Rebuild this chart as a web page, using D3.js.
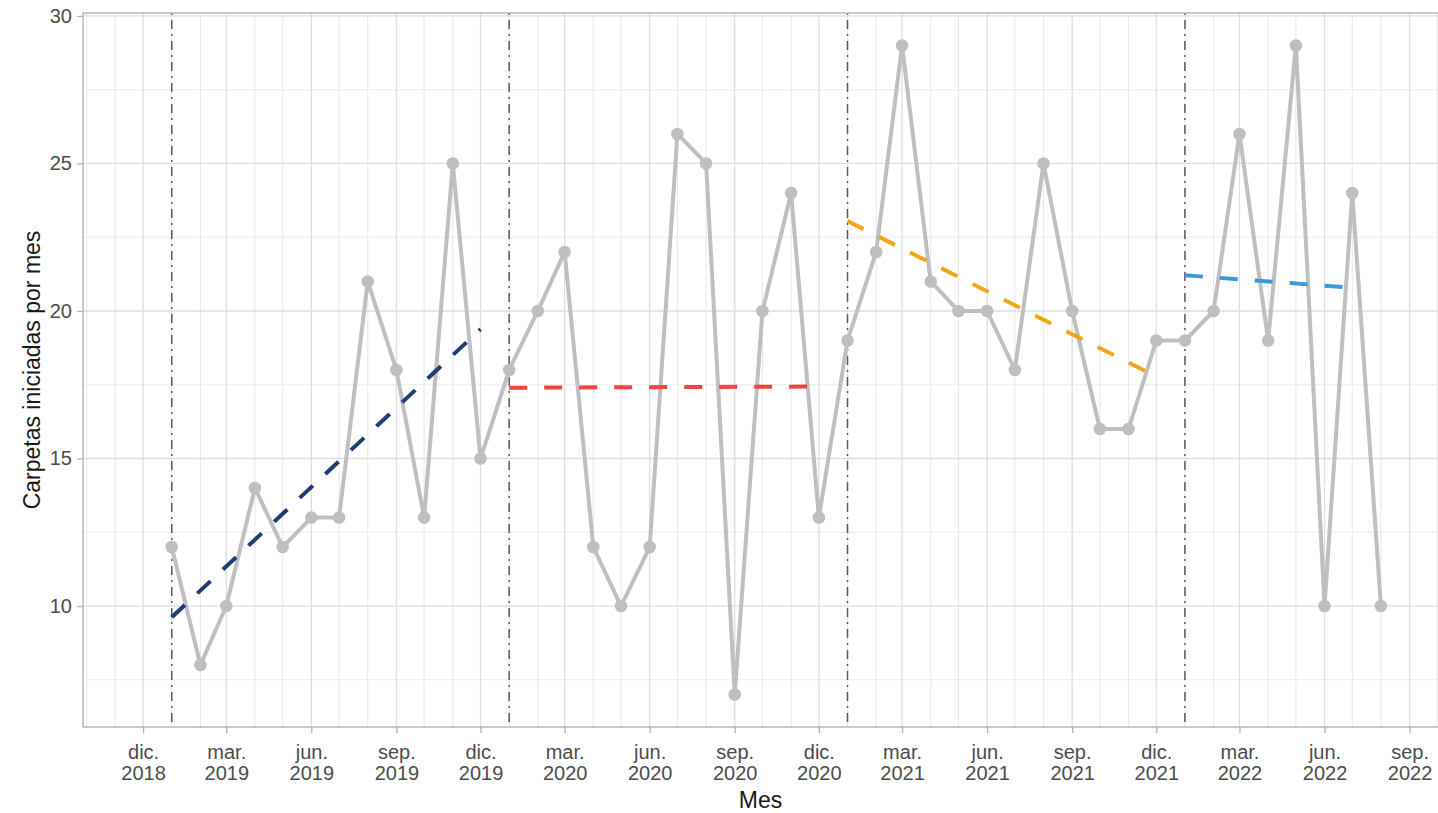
<!DOCTYPE html>
<html>
<head>
<meta charset="utf-8">
<script src="https://cdn.jsdelivr.net/npm/d3@7"></script>
<style>
  html, body { margin: 0; padding: 0; background: #fff; }
  svg { display: block; font-family: "Liberation Sans", Arial, sans-serif; }
</style>
</head>
<body>
<svg id="chart" width="1438" height="813"></svg>
<script>
// ---- data ----
const months = [
  "2019-01","2019-02","2019-03","2019-04","2019-05","2019-06","2019-07","2019-08","2019-09","2019-10","2019-11","2019-12",
  "2020-01","2020-02","2020-03","2020-04","2020-05","2020-06","2020-07","2020-08","2020-09","2020-10","2020-11","2020-12",
  "2021-01","2021-02","2021-03","2021-04","2021-05","2021-06","2021-07","2021-08","2021-09","2021-10","2021-11","2021-12",
  "2022-01","2022-02","2022-03","2022-04","2022-05","2022-06","2022-07","2022-08"
];
const carpetas = [
  12, 8, 10, 14, 12, 13, 13, 21, 18, 13, 25, 15,
  18, 20, 22, 12, 10, 12, 26, 25, 7, 20, 24, 13,
  19, 22, 29, 21, 20, 20, 18, 25, 20, 16, 16, 19,
  19, 20, 26, 19, 29, 10, 24, 10
];
const trendStart = ["2019-01", "2020-01", "2021-01", "2022-01"];
const trendEnd   = ["2019-12", "2020-12", "2021-12", "2022-07"];
const trendFrom  = [9.62, 17.40, 23.05, 21.21];
const trendTo    = [19.38, 17.44, 17.78, 20.79];
const cutMonths  = ["2019-01", "2020-01", "2021-01", "2022-01"];
const xTickMonths = ["2018-12","2019-03","2019-06","2019-09","2019-12","2020-03","2020-06","2020-09","2020-12",
                     "2021-03","2021-06","2021-09","2021-12","2022-03","2022-06","2022-09"];
const xTickLabels = [["dic.","2018"],["mar.","2019"],["jun.","2019"],["sep.","2019"],["dic.","2019"],
                     ["mar.","2020"],["jun.","2020"],["sep.","2020"],["dic.","2020"],
                     ["mar.","2021"],["jun.","2021"],["sep.","2021"],["dic.","2021"],
                     ["mar.","2022"],["jun.","2022"],["sep.","2022"]];
const yTicks = [10, 15, 20, 25, 30];
const yMinorTicks = [7.5, 12.5, 17.5, 22.5, 27.5];
const xDomain = ["2018-09-27", "2022-10-05"];
const yDomain = [5.9, 30.1];

// ---- styles ----
const trendColors = ["#1F3F73", "#F5423F", "#F2A516", "#3B9AD9"];
const lineGray = "#BFBFBF";

const parseMonth = d3.utcParse("%Y-%m");
const parseDay = d3.utcParse("%Y-%m-%d");

const svg = d3.select("#chart");
const pLeft = 83, pRight = 1441, pTop = 13, pBottom = 727;

const x = d3.scaleUtc().domain(xDomain.map(parseDay)).range([pLeft, pRight]);
const y = d3.scaleLinear().domain(yDomain).range([pBottom, pTop]);

svg.append("defs").append("clipPath").attr("id", "panel")
  .append("rect").attr("x", pLeft).attr("y", pTop).attr("width", pRight - pLeft).attr("height", pBottom - pTop);

const panel = svg.append("g").attr("clip-path", "url(#panel)");

// minor vertical grid: every month
const allMonths = d3.utcMonth.range(x.domain()[0], x.domain()[1]);
const majorSet = new Set(xTickMonths);
panel.append("g").selectAll("line")
  .data(allMonths.filter(d => !majorSet.has(d3.utcFormat("%Y-%m")(d))))
  .join("line")
  .attr("x1", d => x(d)).attr("x2", d => x(d))
  .attr("y1", pTop).attr("y2", pBottom)
  .attr("stroke", "#e9e9e9").attr("stroke-width", 1.1);

// minor horizontal grid
panel.append("g").selectAll("line").data(yMinorTicks).join("line")
  .attr("x1", pLeft).attr("x2", pRight)
  .attr("y1", d => y(d)).attr("y2", d => y(d))
  .attr("stroke", "#ebebeb").attr("stroke-width", 1.1);

// major grid
panel.append("g").selectAll("line").data(xTickMonths.map(parseMonth)).join("line")
  .attr("x1", d => x(d)).attr("x2", d => x(d))
  .attr("y1", pTop).attr("y2", pBottom)
  .attr("stroke", "#dedede").attr("stroke-width", 1.3);
panel.append("g").selectAll("line").data(yTicks).join("line")
  .attr("x1", pLeft).attr("x2", pRight)
  .attr("y1", d => y(d)).attr("y2", d => y(d))
  .attr("stroke", "#dedede").attr("stroke-width", 1.3);

// vertical cut lines (dot-dash)
panel.append("g").selectAll("line").data(cutMonths.map(parseMonth)).join("line")
  .attr("x1", d => x(d)).attr("x2", d => x(d))
  .attr("y1", pTop).attr("y2", pBottom)
  .attr("stroke", "#5a5a5a").attr("stroke-width", 1.5)
  .attr("stroke-dasharray", "2,5,9,5");

// gray series line + points
const series = months.map((m, i) => ({ date: parseMonth(m), value: carpetas[i] }));
panel.append("path").datum(series)
  .attr("fill", "none").attr("stroke", lineGray).attr("stroke-width", 4)
  .attr("stroke-linejoin", "round")
  .attr("d", d3.line().x(d => x(d.date)).y(d => y(d.value)));
panel.append("g").selectAll("circle").data(series).join("circle")
  .attr("cx", d => x(d.date)).attr("cy", d => y(d.value)).attr("r", 6.3)
  .attr("fill", lineGray);

// trend lines
const trends = trendStart.map((s, i) => ({
  pts: [{ date: parseMonth(s), value: trendFrom[i] }, { date: parseMonth(trendEnd[i]), value: trendTo[i] }],
  color: trendColors[i]
}));
panel.append("g").selectAll("path").data(trends).join("path")
  .attr("fill", "none").attr("stroke", d => d.color).attr("stroke-width", 4)
  .attr("stroke-dasharray", "18,17")
  .attr("d", d => d3.line().x(p => x(p.date)).y(p => y(p.value))(d.pts));

// panel border
svg.append("rect").attr("x", pLeft).attr("y", pTop).attr("width", pRight - pLeft).attr("height", pBottom - pTop)
  .attr("fill", "none").attr("stroke", "#b3b3b3").attr("stroke-width", 1.4);

// y axis
const yAxis = svg.append("g").attr("transform", `translate(${pLeft},0)`)
  .call(d3.axisLeft(y).tickValues(yTicks).tickSize(6).tickPadding(5).tickFormat(d3.format("d")));
yAxis.select(".domain").remove();
yAxis.selectAll(".tick line").attr("stroke", "#b3b3b3").attr("stroke-width", 1.3);
yAxis.selectAll(".tick text").attr("fill", "#4d4d4d").style("font-size", "20px")
  .style("font-family", "'Liberation Sans', Arial, sans-serif");

// x axis
const xAxis = svg.append("g").attr("transform", `translate(0,${pBottom})`)
  .call(d3.axisBottom(x).tickValues(xTickMonths.map(parseMonth)).tickSize(6).tickFormat(""));
xAxis.select(".domain").remove();
xAxis.selectAll(".tick line").attr("stroke", "#b3b3b3").attr("stroke-width", 1.3);
xAxis.selectAll(".tick").each(function(d, i) {
  const t = d3.select(this).append("text")
    .attr("fill", "#4d4d4d").attr("text-anchor", "middle")
    .style("font-size", "20px").style("font-family", "'Liberation Sans', Arial, sans-serif");
  t.append("tspan").attr("x", 0).attr("y", 32).text(xTickLabels[i][0]);
  t.append("tspan").attr("x", 0).attr("y", 53).text(xTickLabels[i][1]);
});

// axis titles
svg.append("text")
  .attr("x", (pLeft + 1438) / 2).attr("y", 808)
  .attr("text-anchor", "middle").attr("fill", "#1a1a1a")
  .style("font-size", "23px").text("Mes");
svg.append("text")
  .attr("transform", `translate(40,${(pTop + pBottom) / 2}) rotate(-90)`)
  .attr("text-anchor", "middle").attr("fill", "#1a1a1a")
  .style("font-size", "23px").text("Carpetas iniciadas por mes");
</script>
</body>
</html>
